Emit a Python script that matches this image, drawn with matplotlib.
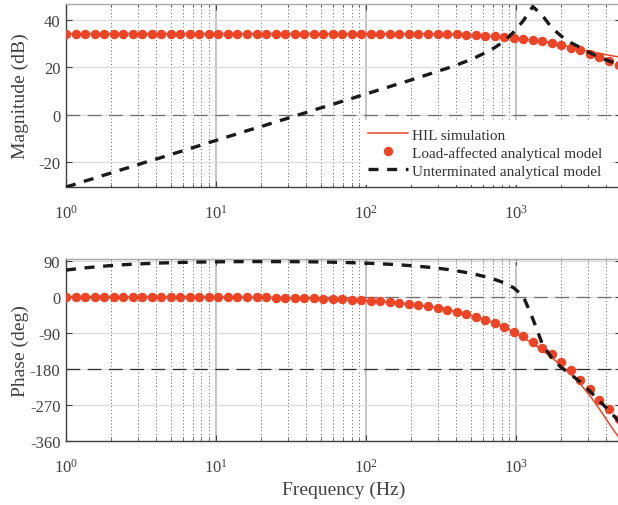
import matplotlib
matplotlib.use('Agg')
import matplotlib.pyplot as plt
from matplotlib.ticker import LogLocator, NullFormatter, FixedLocator

plt.rcParams['font.family'] = ['Liberation Serif', 'DejaVu Serif']
plt.rcParams['mathtext.fontset'] = 'custom'
plt.rcParams['mathtext.rm'] = 'Liberation Serif'
plt.rcParams['mathtext.default'] = 'regular'
plt.rcParams['axes.unicode_minus'] = False

# frequency grid (Hz)
freq = [1.000, 1.157, 1.340, 1.551, 1.795, 2.077, 2.404, 2.783, 3.221, 3.728,
        4.314, 4.993, 5.780, 6.690, 7.743, 8.962, 10.37, 12.01, 13.90, 16.08,
        18.62, 21.54, 24.94, 28.86, 33.41, 38.66, 44.75, 51.80, 59.95, 69.39,
        80.32, 92.96, 107.6, 124.5, 144.1, 166.8, 193.1, 223.5, 258.7, 299.4,
        346.6, 401.1, 464.2, 537.3, 621.9, 719.7, 833.0, 964.2, 1116, 1292,
        1495, 1731, 2003, 2318, 2683, 3106, 3594, 4160, 4815, 5573]

# HIL simulation (red line)
hil_mag = [34.1, 34.1, 34.1, 34.1, 34.1, 34.1, 34.1, 34.1, 34.1, 34.1,
           34.1, 34.1, 34.1, 34.1, 34.1, 34.1, 34.1, 34.1, 34.1, 34.1,
           34.1, 34.1, 34.1, 34.1, 34.1, 34.1, 34.1, 34.1, 34.1, 34.1,
           34.1, 34.1, 34.1, 34.1, 34.1, 34.1, 34.08, 34.05, 34.0, 33.95,
           33.9, 33.8, 33.65, 33.45, 33.25, 33.0, 32.65, 32.25, 31.8, 31.3,
           30.8, 30.2, 29.45, 28.5, 27.5, 26.6, 25.8, 25.0, 24.3, 23.9]
hil_phase = [-0.1, -0.11, -0.13, -0.15, -0.17, -0.2, -0.23, -0.26, -0.3, -0.35,
             -0.41, -0.47, -0.54, -0.63, -0.73, -0.84, -0.97, -1.13, -1.31, -1.51,
             -1.75, -2.02, -2.34, -2.71, -3.14, -3.63, -4.21, -4.87, -5.64, -6.52,
             -7.55, -8.74, -10.1, -11.7, -14.0, -16.6, -18.5, -20.7, -24.0, -28.0,
             -32.6, -38.5, -44.0, -51.0, -57.5, -65.0, -75.0, -89.0, -101, -117,
             -134, -152, -172, -194, -218, -247, -280, -316, -350, -392]

# load-affected analytical model (red dots)
model_mag = [34.1, 34.1, 34.1, 34.1, 34.1, 34.1, 34.1, 34.1, 34.1, 34.1,
             34.1, 34.1, 34.1, 34.1, 34.1, 34.1, 34.1, 34.1, 34.1, 34.1,
             34.1, 34.1, 34.1, 34.1, 34.1, 34.1, 34.1, 34.1, 34.1, 34.1,
             34.1, 34.1, 34.1, 34.1, 34.1, 34.1, 34.08, 34.05, 34.0, 33.95,
             33.9, 33.8, 33.65, 33.45, 33.25, 33.0, 32.65, 32.25, 31.8, 31.3,
             30.8, 30.2, 29.4, 28.2, 27.0, 25.6, 24.05, 22.5, 21.0]
model_phase = [-0.1, -0.11, -0.13, -0.15, -0.17, -0.2, -0.23, -0.26, -0.3, -0.35,
               -0.41, -0.47, -0.54, -0.63, -0.73, -0.84, -0.97, -1.13, -1.31, -1.51,
               -1.75, -2.02, -2.34, -2.71, -3.14, -3.63, -4.21, -4.87, -5.64, -6.52,
               -7.55, -8.74, -10.1, -11.7, -14.0, -16.6, -18.5, -20.7, -24.0, -28.0,
               -32.6, -38.5, -44.0, -51.0, -57.5, -65.0, -75.0, -87.0, -97.0, -112,
               -128, -144, -162, -183, -207, -230, -257, -280, -305]

# unterminated analytical model (black dashed)
open_mag = [-30.5, -29.3, -28.0, -26.8, -25.5, -24.3, -23.0, -21.8, -20.5, -19.3,
            -18.1, -16.8, -15.6, -14.3, -13.1, -11.8, -10.6, -9.3, -8.1, -6.8,
            -5.6, -4.4, -3.1, -1.9, -0.6, 0.6, 1.9, 3.1, 4.3, 5.6,
            6.8, 8.1, 9.3, 10.6, 11.8, 13.1, 14.3, 15.6, 16.9, 18.2,
            19.5, 20.9, 22.4, 24.1, 26.0, 28.2, 30.9, 34.8, 39.5, 45.5,
            41.8, 36.5, 33.0, 30.3, 28.2, 26.0, 24.2, 22.6, 21.2, 20.0]
open_phase = [66.3, 69.2, 71.8, 74.1, 76.2, 78.0, 79.6, 80.9, 82.0, 83.1,
              84.0, 84.7, 85.4, 85.9, 86.4, 86.6, 86.9, 87.2, 87.3, 87.4,
              87.5, 87.5, 87.4, 87.4, 87.2, 87.0, 86.8, 86.4, 86.0, 85.4,
              84.8, 84.0, 83.1, 82.0, 80.8, 79.4, 77.7, 75.7, 73.5, 71.0,
              68.0, 64.5, 60.3, 55.5, 49.8, 43.0, 34.5, 22.0, 1.0, -55.0,
              -118, -153, -177, -194, -213, -236, -260, -284, -310, -335]

mag_ticks = [-20, 0, 20, 40]
phase_ticks = [-360, -270, -180, -90, 0, 90]

red = '#ee4426'
txt = '#404040'

fig = plt.figure(figsize=(6.18, 5.06), dpi=100)
ax1 = fig.add_axes([0.1068, 0.6285, 0.898, 0.3617])
ax2 = fig.add_axes([0.1068, 0.1265, 0.898, 0.3597])


def style_axes(ax):
    ax.set_xscale('log')
    ax.set_xlim(1, 5000)
    ax.xaxis.set_major_locator(LogLocator(base=10, numticks=10))
    ax.xaxis.set_minor_locator(LogLocator(base=10, subs=range(2, 10), numticks=20))
    ax.xaxis.set_minor_formatter(NullFormatter())
    ax.set_axisbelow(True)
    ax.grid(True, which='major', axis='x', color='#b4b4b4', lw=1.1)
    ax.grid(True, which='major', axis='y', color='#dedede', lw=1.0)
    ax.grid(True, which='minor', axis='x', color='#606060', lw=0.7,
            linestyle=(0, (1, 2.5)))
    ax.tick_params(which='both', direction='in', top=True, right=True,
                   colors=txt, labelsize=12)
    ax.tick_params(axis='x', which='major', length=4.5, pad=12)
    ax.tick_params(axis='y', which='major', length=4.5, pad=4)
    ax.tick_params(which='minor', length=2.5)
    for s in ax.spines.values():
        s.set_color('#404040')
        s.set_linewidth(1.0)
    ax.spines['top'].set_color('#a8a8a8')


style_axes(ax1)
style_axes(ax2)

# magnitude
ax1.axhline(0, color='#707070', lw=0.9, linestyle=(0, (11, 6)), zorder=1)
ax1.plot(freq, hil_mag, color=red, lw=1.1, label='HIL simulation', zorder=3)
ax1.plot(freq[:len(model_mag)], model_mag, linestyle='none', marker='o',
         ms=5.8, color=red, mec=red, label='Load-affected analytical model', zorder=3)
ax1.plot(freq, open_mag, color='#1a1a1a', lw=2.4, linestyle=(0, (3.0, 2.6)),
         dash_capstyle='butt', label='Unterminated analytical model', zorder=4)
ax1.set_ylim(-30.5, 46.6)
ax1.yaxis.set_major_locator(FixedLocator(mag_ticks))
ax1.set_ylabel('Magnitude (dB)', fontsize=14, color=txt)
ax1.yaxis.set_label_coords(-0.066, 0.5)

leg = ax1.legend(loc='lower left', bbox_to_anchor=(0.528, 0.0), frameon=True,
                 facecolor='white', edgecolor='none', framealpha=1, fancybox=False,
                 fontsize=11, handlelength=2.6, handletextpad=0.25,
                 labelspacing=0.28, borderpad=0.5, borderaxespad=0.1, numpoints=1,
                 labelcolor='#333333')
leg.set_zorder(5)

# phase
ax2.axhline(0, color='#707070', lw=0.9, linestyle=(0, (11, 6)), zorder=1)
ax2.axhline(-180, color='#303030', lw=0.9, linestyle=(0, (11, 6)), zorder=1)
ax2.plot(freq, hil_phase, color=red, lw=1.1, zorder=3)
ax2.plot(freq[:len(model_phase)], model_phase, linestyle='none', marker='o',
         ms=5.8, color=red, mec=red, zorder=3)
ax2.plot(freq, open_phase, color='#1a1a1a', lw=2.4, linestyle=(0, (3.0, 2.6)),
         dash_capstyle='butt', zorder=4)
ax2.set_ylim(-360, 94)
ax2.yaxis.set_major_locator(FixedLocator(phase_ticks))
ax2.set_ylabel('Phase (deg)', fontsize=14, color=txt)
ax2.yaxis.set_label_coords(-0.066, 0.5)
ax2.set_xlabel('Frequency (Hz)', fontsize=14, color=txt, labelpad=4)

fig.savefig('out.png', dpi=100)
